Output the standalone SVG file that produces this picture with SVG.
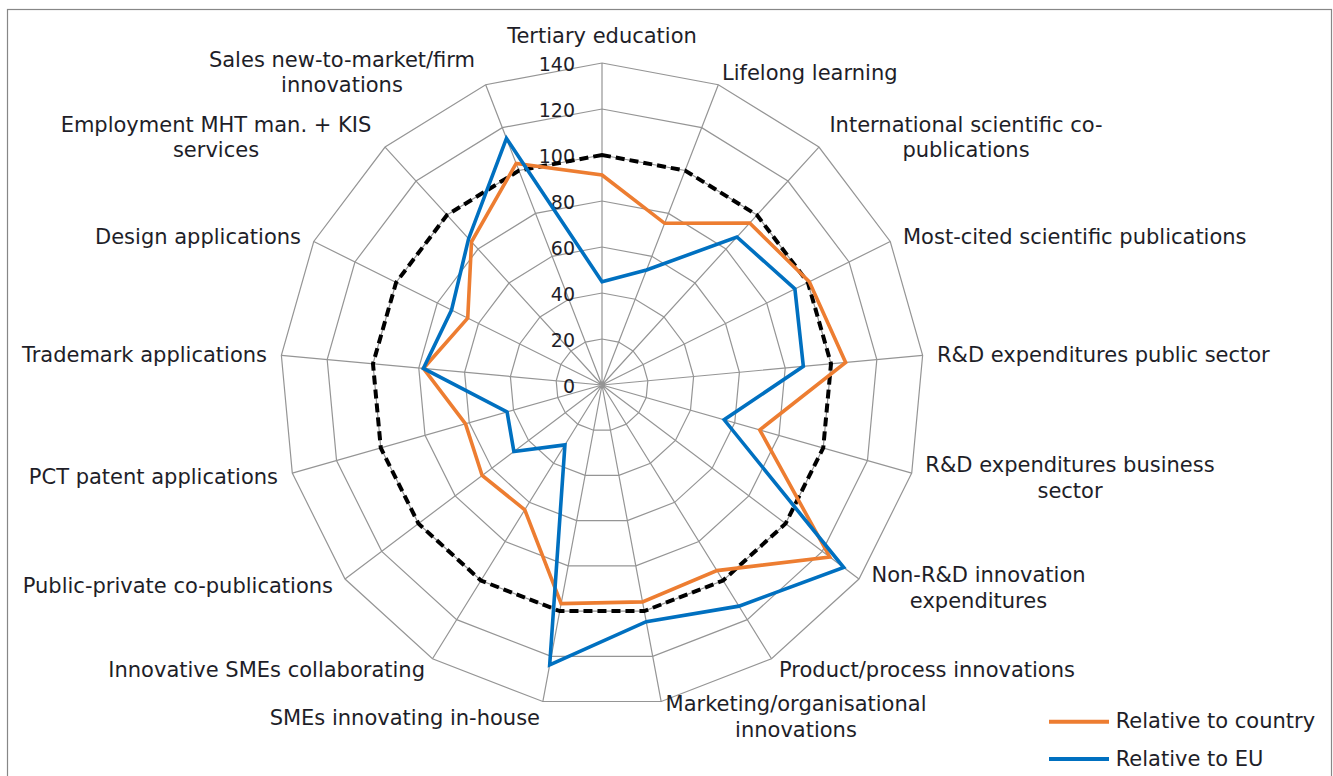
<svg xmlns="http://www.w3.org/2000/svg" width="1333" height="776" viewBox="0 0 1333 776">
<style>
text{font-family:"DejaVu Sans",Verdana,"Liberation Sans",sans-serif;font-size:21px;fill:#1e1e28}
.tick{font-size:19px;text-anchor:end}
.ring{fill:none;stroke:#959595;stroke-width:1.2}
.axis{fill:none;stroke:#959595;stroke-width:1.2}
.ref{fill:none;stroke:#000;stroke-width:4;stroke-dasharray:9 5}
.ser{fill:none;stroke-width:3.6;stroke-linejoin:miter}
.mid{text-anchor:middle}
.end{text-anchor:end}
</style>
<rect width="1333" height="776" fill="#fff"/>
<rect x="7.5" y="9.5" width="1324" height="800" fill="none" stroke="#878787" stroke-width="1.2"/>
<g id="grid">
<polygon class="ring" points="602,339 618.62,342.11 632.99,351.01 643.18,364.5 647.8,380.76 646.24,397.59 638.71,412.72 626.22,424.11 610.45,430.22 593.55,430.22 577.78,424.11 565.29,412.72 557.76,397.59 556.2,380.76 560.82,364.5 571.01,351.01 585.38,342.11"/>
<polygon class="ring" points="602,293 635.23,299.21 663.98,317.01 684.35,343.99 693.61,376.51 690.49,410.18 675.42,440.44 650.43,463.22 618.91,475.43 585.09,475.43 553.57,463.22 528.58,440.44 513.51,410.18 510.39,376.51 519.65,343.99 540.02,317.01 568.77,299.21"/>
<polygon class="ring" points="602,247 651.85,256.32 694.97,283.02 725.53,323.49 739.41,372.27 734.73,422.77 712.13,468.16 674.65,502.33 627.36,520.65 576.64,520.65 529.35,502.33 491.87,468.16 469.27,422.77 464.59,372.27 478.47,323.49 509.03,283.02 552.15,256.32"/>
<polygon class="ring" points="602,201 668.47,213.43 725.96,249.02 766.71,302.98 785.22,368.02 778.98,435.35 748.84,495.88 698.86,541.44 635.81,565.87 568.19,565.87 505.14,541.44 455.16,495.88 425.02,435.35 418.78,368.02 437.29,302.98 478.04,249.02 535.53,213.43"/>
<polygon class="ring" points="602,155 685.09,170.53 756.95,215.03 807.89,282.48 831.02,363.78 823.22,447.94 785.54,523.61 723.08,580.55 644.26,611.08 559.74,611.08 480.92,580.55 418.46,523.61 380.78,447.94 372.98,363.78 396.11,282.48 447.05,215.03 518.91,170.53"/>
<polygon class="ring" points="602,109 701.7,127.64 787.94,181.03 849.06,261.98 876.82,359.53 867.46,460.53 822.25,551.33 747.3,619.66 652.72,656.3 551.28,656.3 456.7,619.66 381.75,551.33 336.54,460.53 327.18,359.53 354.94,261.98 416.06,181.03 502.3,127.64"/>
<polygon class="ring" points="602,63 718.32,84.74 818.93,147.04 890.24,241.47 922.63,355.29 911.71,473.12 858.96,579.05 771.51,658.77 661.17,701.52 542.83,701.52 432.49,658.77 345.04,579.05 292.29,473.12 281.37,355.29 313.76,241.47 385.07,147.04 485.68,84.74"/>
<path class="axis" d="M602 385L602 63M602 385L718.32 84.74M602 385L818.93 147.04M602 385L890.24 241.47M602 385L922.63 355.29M602 385L911.71 473.12M602 385L858.96 579.05M602 385L771.51 658.77M602 385L661.17 701.52M602 385L542.83 701.52M602 385L432.49 658.77M602 385L345.04 579.05M602 385L292.29 473.12M602 385L281.37 355.29M602 385L313.76 241.47M602 385L385.07 147.04M602 385L485.68 84.74"/>
</g>
<g id="ticks">
<text class="tick" x="575" y="393">0</text>
<text class="tick" x="575" y="347">20</text>
<text class="tick" x="575" y="301">40</text>
<text class="tick" x="575" y="255">60</text>
<text class="tick" x="575" y="209">80</text>
<text class="tick" x="575" y="163">100</text>
<text class="tick" x="575" y="117">120</text>
<text class="tick" x="575" y="71">140</text>
</g>
<g id="series">
<polygon class="ref" points="602,155 685.09,170.53 756.95,215.03 807.89,282.48 831.02,363.78 823.22,447.94 785.54,523.61 723.08,580.55 644.26,611.08 559.74,611.08 480.92,580.55 418.46,523.61 380.78,447.94 372.98,363.78 396.11,282.48 447.05,215.03 518.91,170.53"/>
<polygon id="country" class="ser" stroke="#ED7D31" points="602,175 664.64,223.31 749.67,223.01 809.32,281.77 845.66,362.42 759.74,429.88 829.75,556.99 716.92,570.6 642.54,601.84 561.13,603.61 524.77,509.73 482.14,475.52 465.52,423.83 423.37,368.45 467.73,318.14 471.51,241.85 516.17,163.45"/>
<polygon id="eu" class="ser" stroke="#0070C0" points="602,281.7 646.54,270.03 736.94,236.98 794.9,288.94 803.34,366.34 724.15,419.76 843.72,567.54 738.93,606.14 646.25,621.7 549.69,664.85 564.94,444.86 513.9,451.53 507.07,412.01 423.37,368.45 451.52,310.07 468.61,238.68 506.45,138.36"/>
</g>
<g id="labels">
<text class="mid" x="602" y="42.5">Tertiary education</text>
<text x="722" y="79.5">Lifelong learning</text>
<text class="mid" x="966" y="131.5">International scientific co-</text>
<text class="mid" x="966" y="157">publications</text>
<text x="903" y="243.5">Most-cited scientific publications</text>
<text x="937" y="361.7">R&amp;D expenditures public sector</text>
<text class="mid" x="1070" y="471.7">R&amp;D expenditures business</text>
<text class="mid" x="1070" y="497.5">sector</text>
<text class="mid" x="978.5" y="582.3">Non-R&amp;D innovation</text>
<text class="mid" x="978.5" y="607.8">expenditures</text>
<text x="779" y="677">Product/process innovations</text>
<text class="mid" x="796" y="711">Marketing/organisational</text>
<text class="mid" x="796" y="736.5">innovations</text>
<text class="end" x="540" y="725">SMEs innovating in-house</text>
<text class="end" x="425" y="677">Innovative SMEs collaborating</text>
<text class="end" x="333" y="593.3">Public-private co-publications</text>
<text class="end" x="278" y="484">PCT patent applications</text>
<text class="end" x="267" y="362">Trademark applications</text>
<text class="end" x="301" y="243.5">Design applications</text>
<text class="mid" x="216" y="131.7">Employment MHT man. + KIS</text>
<text class="mid" x="216" y="157">services</text>
<text class="mid" x="342" y="66.7">Sales new-to-market/firm</text>
<text class="mid" x="342" y="92">innovations</text>
</g>
<g id="legend">
<line x1="1049" y1="721.7" x2="1109" y2="721.7" stroke="#ED7D31" stroke-width="4"/>
<text x="1115.7" y="728.3">Relative to country</text>
<line x1="1049" y1="759" x2="1109" y2="759" stroke="#0070C0" stroke-width="4"/>
<text x="1115.7" y="765.7">Relative to EU</text>
</g>
</svg>
